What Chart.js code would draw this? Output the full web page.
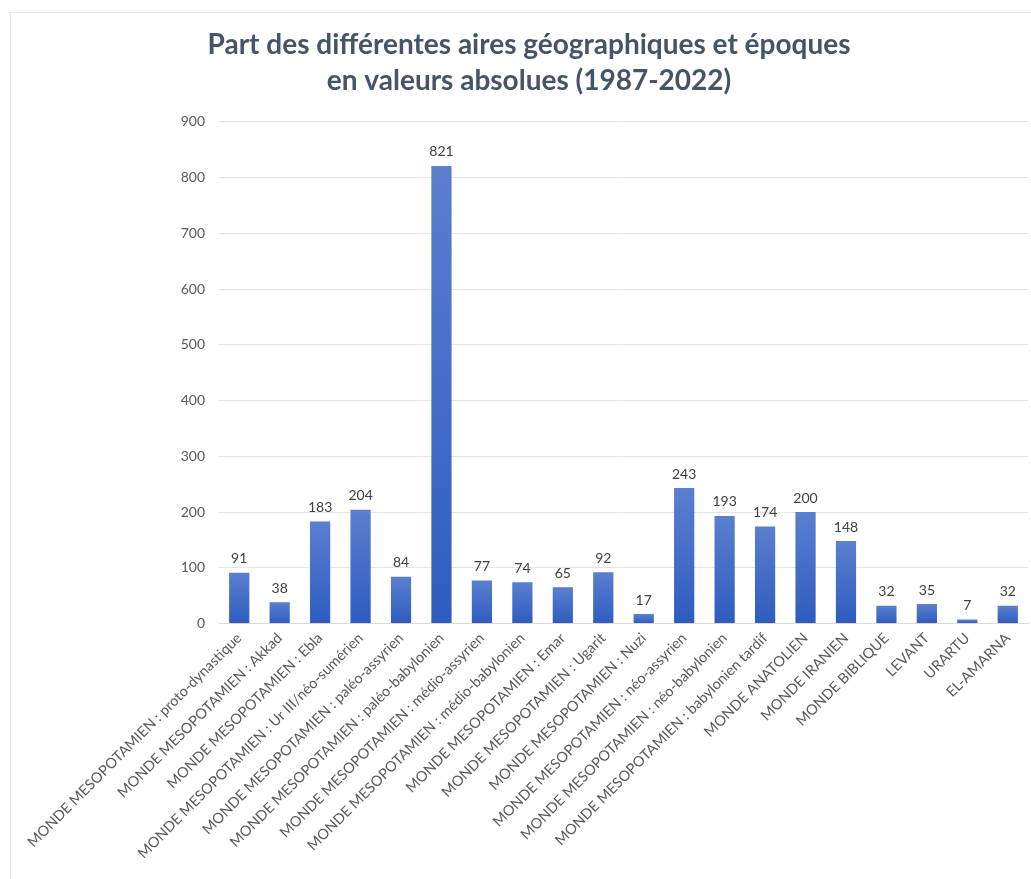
<!DOCTYPE html>
<html>
<head>
<meta charset="utf-8">
<script src="https://cdn.jsdelivr.net/npm/chart.js@4.4.0/dist/chart.umd.min.js"></script>
<style>
    body { margin: 0; background: #fff; }
    #wrap { position: relative; width: 1031px; height: 879px; }
    #frame { position: absolute; left: 10px; top: 12px; right: -5px; bottom: -5px; border: 1px solid #e6e6e9; }
    canvas { position: absolute; left: 0; top: 0; }
</style>
</head>
<body>
<div id="wrap">
    <div id="frame"></div>
    <canvas id="chart" width="1031" height="879"></canvas>
</div>
<script>
// Catégories (axe X)
const categories = [
    'MONDE MESOPOTAMIEN : proto-dynastique',
    'MONDE MESOPOTAMIEN : Akkad',
    'MONDE MESOPOTAMIEN : Ebla',
    'MONDE MESOPOTAMIEN : Ur III/néo-sumérien',
    'MONDE MESOPOTAMIEN : paléo-assyrien',
    'MONDE MESOPOTAMIEN : paléo-babylonien',
    'MONDE MESOPOTAMIEN : médio-assyrien',
    'MONDE MESOPOTAMIEN : médio-babylonien',
    'MONDE MESOPOTAMIEN : Emar',
    'MONDE MESOPOTAMIEN : Ugarit',
    'MONDE MESOPOTAMIEN : Nuzi',
    'MONDE MESOPOTAMIEN : néo-assyrien',
    'MONDE MESOPOTAMIEN : néo-babylonien',
    'MONDE MESOPOTAMIEN : babylonien tardif',
    'MONDE ANATOLIEN',
    'MONDE IRANIEN',
    'MONDE BIBLIQUE',
    'LEVANT',
    'URARTU',
    'EL-AMARNA'
];

// Valeurs absolues
const counts = [91, 38, 183, 204, 84, 821, 77, 74, 65, 92, 17, 243, 193, 174, 200, 148, 32, 35, 7, 32];

// Graduations de l'axe Y
const yMin = 0;
const yMax = 900;
const yStep = 100;

const FONT = "Lato, 'Open Sans', sans-serif";

// dégradé vertical pour chaque barre (clair en haut, foncé en bas)
function barGradient(ctx) {
    const chart = ctx.chart;
    if (!chart.chartArea || ctx.type !== 'data') return '#3d68c4';
    const y = chart.scales.y;
    const top = y.getPixelForValue(ctx.raw);
    const base = y.getPixelForValue(0);
    const g = chart.ctx.createLinearGradient(0, top, 0, base);
    g.addColorStop(0, '#5a7fcf');
    g.addColorStop(1, '#2e5cbf');
    return g;
}

// étiquettes de valeurs au-dessus des barres
const valueLabels = {
    id: 'valueLabels',
    afterDatasetsDraw(chart) {
        const c = chart.ctx;
        const meta = chart.getDatasetMeta(0);
        c.save();
        c.font = "14px " + FONT;
        c.fillStyle = '#404040';
        c.textAlign = 'center';
        c.textBaseline = 'bottom';
        meta.data.forEach((bar, i) => {
            c.fillText(counts[i], bar.x, bar.y - 7);
        });
        c.restore();
    }
};

new Chart(document.getElementById('chart'), {
    type: 'bar',
    data: {
        labels: categories,
        datasets: [{
            data: counts,
            backgroundColor: barGradient,
            borderWidth: 0,
            categoryPercentage: 1.0,
            barPercentage: 0.5
        }]
    },
    options: {
        responsive: false,
        animation: false,
        layout: { padding: { top: 26, right: 3, bottom: 11, left: 30 } },
        plugins: {
            legend: { display: false },
            tooltip: { enabled: false },
            title: {
                display: true,
                text: ['Part des différentes aires géographiques et époques', 'en valeurs absolues (1987-2022)'],
                color: '#44546a',
                font: { family: FONT, size: 28, weight: 'bold', lineHeight: 1.32 },
                padding: { top: 0, bottom: 22 }
            }
        },
        scales: {
            x: {
                grid: { display: false, drawTicks: false },
                border: { color: '#d9d9d9' },
                ticks: {
                    color: '#595959',
                    font: { family: FONT, size: 14.5 },
                    minRotation: 45,
                    maxRotation: 45,
                    autoSkip: false,
                    padding: 6
                }
            },
            y: {
                min: yMin,
                max: yMax,
                afterFit: (scale) => { scale.width = 189; },
                grid: { color: '#e3e3e8', drawTicks: false },
                border: { display: false },
                ticks: {
                    stepSize: yStep,
                    color: '#595959',
                    font: { family: FONT, size: 14 },
                    padding: 14
                }
            }
        }
    },
    plugins: [valueLabels]
});
</script>
</body>
</html>
